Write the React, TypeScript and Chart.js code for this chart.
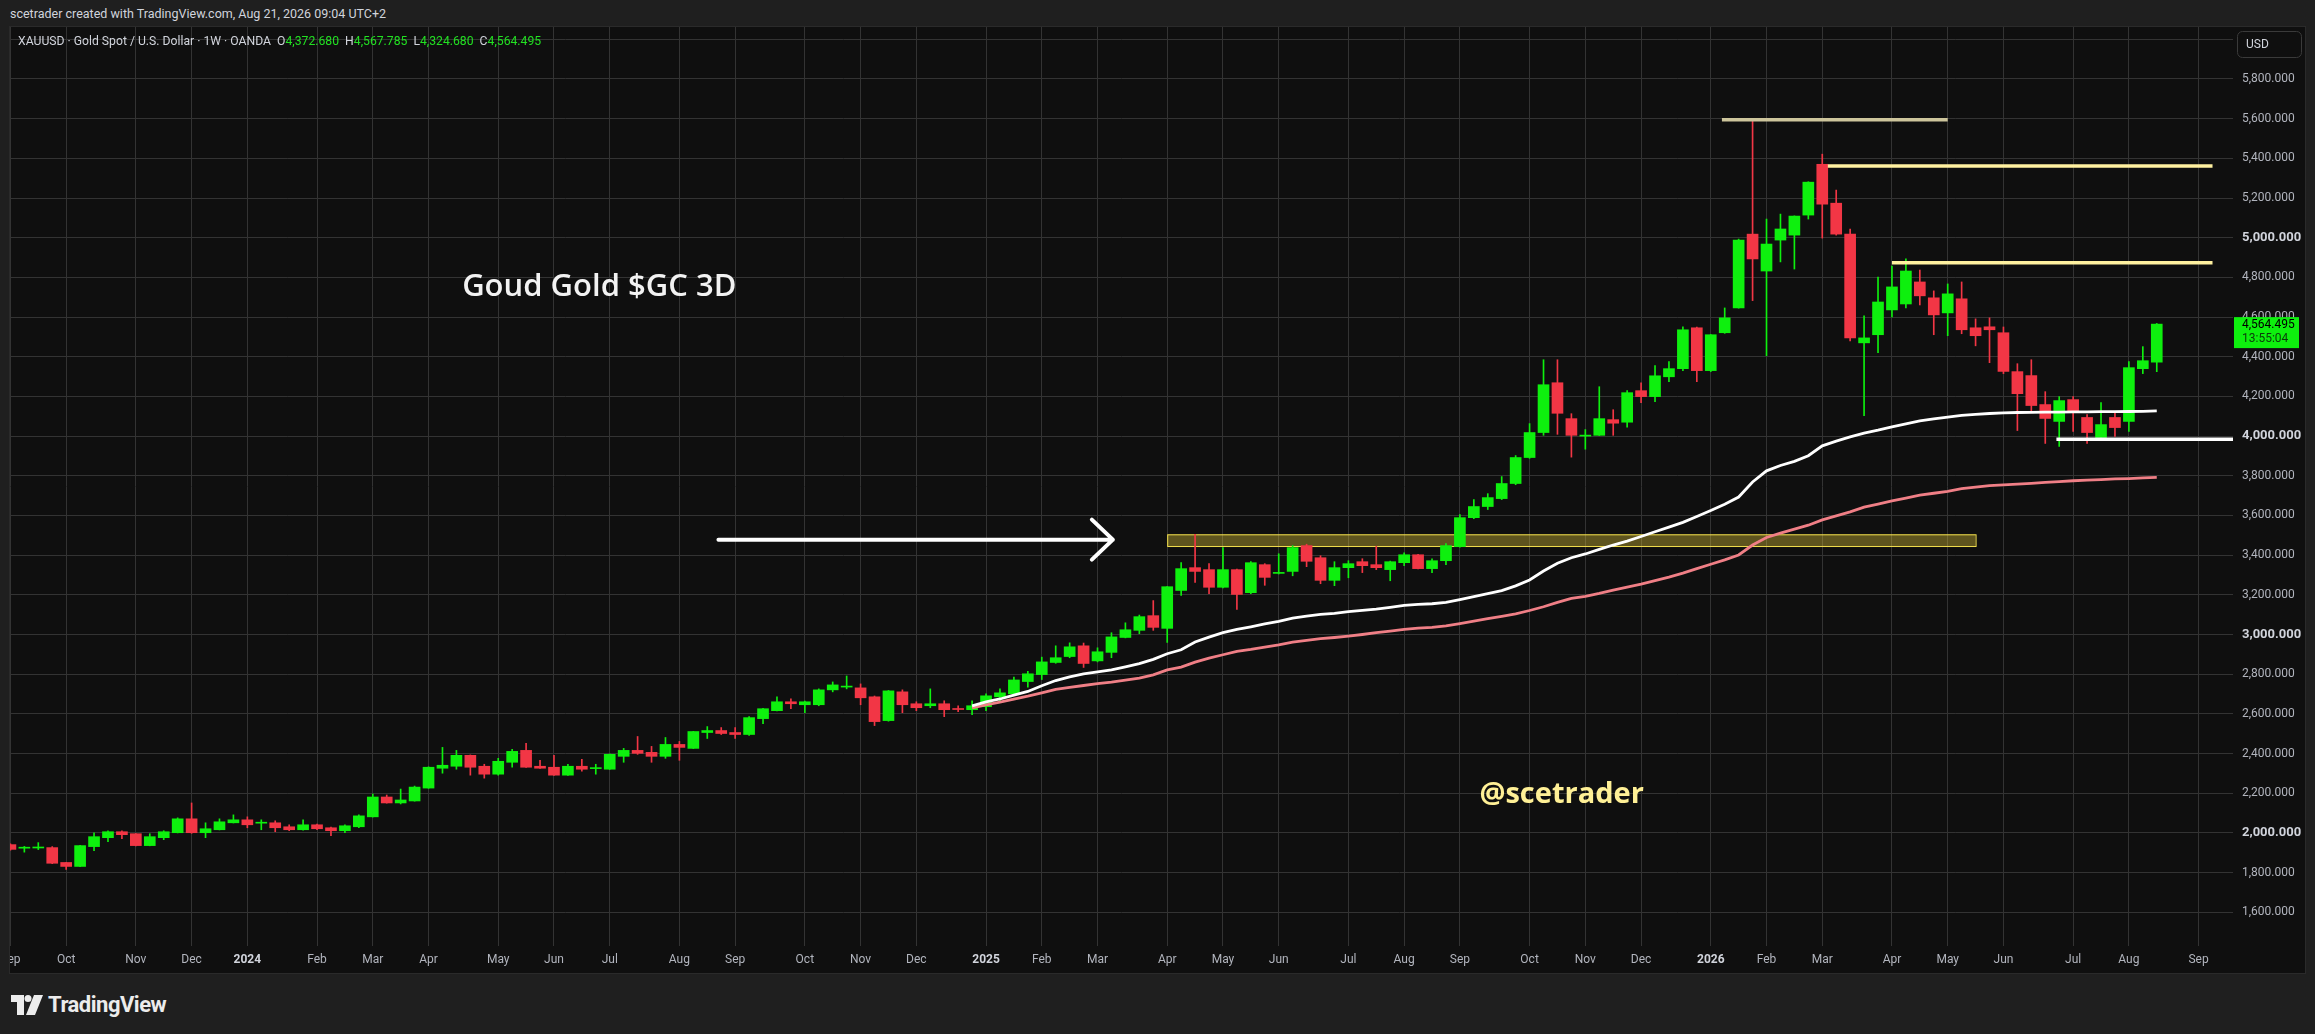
import React, { useEffect, useRef } from 'react';
import { Chart, registerables } from 'chart.js';

Chart.register(...registerables);

// ---------- DATA ----------
const FIRST_WEEK = [2023, 8, 4]; // Monday Sep 4, 2023 (UTC, month 0-based)
const MONTHS = ['Jan', 'Feb', 'Mar', 'Apr', 'May', 'Jun', 'Jul', 'Aug', 'Sep', 'Oct', 'Nov', 'Dec'];

const opens = [
  1941, 1923, 1924, 1926, 1851, 1831, 1931, 1976, 2006, 1996,
  1936, 1976, 2001, 2071, 2001, 2016, 2051, 2066, 2049, 2051,
  2031, 2016, 2041, 2026, 2011, 2031, 2081, 2181, 2151, 2161,
  2226, 2326, 2336, 2391, 2336, 2296, 2356, 2416, 2336, 2331,
  2291, 2336, 2324, 2321, 2386, 2416, 2406, 2386, 2446, 2426,
  2506, 2516, 2506, 2496, 2576, 2616, 2661, 2646, 2646, 2721,
  2735, 2731, 2686, 2566, 2711, 2651, 2641, 2651, 2626, 2621,
  2636, 2686, 2701, 2763, 2798, 2859, 2889, 2943, 2867, 2910,
  2985, 3021, 3095, 3031, 3222, 3337, 3327, 3238, 3327, 3211,
  3352, 3308, 3318, 3448, 3387, 3273, 3337, 3367, 3352, 3327,
  3362, 3402, 3332, 3372, 3443, 3589, 3645, 3685, 3761, 3892,
  4018, 4269, 4088, 4000, 4004, 4083, 4070, 4229, 4199, 4299,
  4340, 4546, 4330, 4521, 4646, 5018, 4832, 4988, 5013, 5114,
  5370, 5174, 5018, 4470, 4511, 4636, 4666, 4777, 4697, 4621,
  4692, 4546, 4551, 4521, 4325, 4305, 4159, 4074, 4184, 4094,
  3993, 4094, 4074, 4340, 4372.68,
];
const highs = [
  1945, 1932, 1951, 1931, 1852, 1937, 2000, 2011, 2011, 1997,
  1996, 2011, 2076, 2151, 2051, 2071, 2091, 2081, 2066, 2061,
  2041, 2066, 2045, 2030, 2041, 2091, 2196, 2191, 2221, 2236,
  2333, 2431, 2416, 2393, 2346, 2376, 2421, 2451, 2366, 2391,
  2346, 2371, 2346, 2398, 2426, 2486, 2436, 2481, 2461, 2512,
  2536, 2531, 2531, 2586, 2628, 2686, 2676, 2665, 2726, 2761,
  2791, 2751, 2690, 2718, 2721, 2661, 2726, 2666, 2641, 2666,
  2701, 2726, 2786, 2815, 2886, 2943, 2958, 2957, 2933, 3009,
  3059, 3098, 3171, 3242, 3362, 3505, 3357, 3438, 3330, 3367,
  3357, 3407, 3448, 3455, 3397, 3367, 3372, 3382, 3445, 3370,
  3412, 3404, 3382, 3458, 3604, 3680, 3710, 3796, 3902, 4063,
  4385, 4385, 4113, 4033, 4249, 4133, 4229, 4269, 4355, 4375,
  4551, 4550, 4512, 4646, 4993, 5600, 5094, 5119, 5110, 5282,
  5421, 5240, 5044, 4606, 4802, 4857, 4893, 4837, 4732, 4767,
  4777, 4591, 4596, 4550, 4365, 4385, 4224, 4199, 4199, 4109,
  4169, 4124, 4375, 4451, 4567.785,
];
const lows = [
  1913, 1903, 1916, 1845, 1816, 1830, 1911, 1956, 1971, 1935,
  1935, 1966, 2000, 1998, 1976, 2015, 2050, 2026, 2016, 2006,
  2011, 2014, 2016, 1986, 2001, 2026, 2080, 2150, 2146, 2160,
  2225, 2301, 2321, 2291, 2276, 2291, 2331, 2330, 2325, 2290,
  2290, 2311, 2296, 2320, 2356, 2396, 2356, 2376, 2366, 2425,
  2476, 2496, 2476, 2491, 2551, 2615, 2626, 2606, 2641, 2711,
  2726, 2646, 2541, 2563, 2606, 2616, 2631, 2586, 2611, 2596,
  2616, 2661, 2700, 2734, 2773, 2855, 2883, 2834, 2862, 2883,
  2983, 3004, 3021, 2960, 3197, 3263, 3206, 3235, 3127, 3206,
  3248, 3305, 3296, 3342, 3256, 3246, 3286, 3312, 3327, 3271,
  3347, 3330, 3312, 3352, 3440, 3584, 3630, 3680, 3755, 3888,
  4004, 4009, 3894, 3934, 4003, 4004, 4045, 4169, 4174, 4274,
  4330, 4274, 4325, 4518, 4645, 4683, 4405, 4878, 4842, 5094,
  4998, 5013, 4480, 4103, 4420, 4601, 4646, 4661, 4511, 4506,
  4516, 4455, 4370, 4315, 4028, 4124, 3963, 3948, 4023, 3963,
  3988, 3998, 4023, 4315, 4324.68,
];
const closes = [
  1917, 1925, 1926, 1847, 1831, 1936, 1981, 2006, 1991, 1936,
  1981, 2006, 2071, 2001, 2021, 2056, 2066, 2041, 2051, 2026,
  2016, 2041, 2021, 2011, 2036, 2086, 2181, 2151, 2166, 2231,
  2331, 2341, 2391, 2331, 2296, 2361, 2411, 2331, 2326, 2291,
  2336, 2321, 2328, 2396, 2416, 2401, 2386, 2446, 2431, 2511,
  2516, 2501, 2496, 2581, 2626, 2661, 2651, 2661, 2721, 2746,
  2738, 2681, 2561, 2716, 2646, 2631, 2651, 2621, 2622, 2641,
  2691, 2706, 2771, 2802, 2862, 2883, 2938, 2854, 2913, 2988,
  3024, 3090, 3036, 3241, 3332, 3318, 3238, 3327, 3202, 3362,
  3288, 3311, 3438, 3369, 3273, 3337, 3357, 3347, 3337, 3367,
  3402, 3332, 3372, 3448, 3589, 3645, 3690, 3761, 3892, 4018,
  4259, 4115, 4004, 4003, 4088, 4065, 4219, 4199, 4304, 4340,
  4536, 4330, 4511, 4596, 4988, 4893, 4968, 5044, 5109, 5280,
  5169, 5018, 4495, 4495, 4676, 4752, 4832, 4707, 4611, 4717,
  4536, 4506, 4536, 4326, 4214, 4154, 4089, 4179, 4119, 4018,
  4058, 4043, 4345, 4380, 4564.495,
];

const MA_START = 69; // week index where both averages begin
const maWhite = [
  2640, 2660, 2675, 2694, 2713, 2742, 2768, 2786, 2802, 2812,
  2822, 2837, 2853, 2875, 2903, 2923, 2962, 2987, 3009, 3026,
  3039, 3053, 3066, 3083, 3093, 3101, 3106, 3115, 3122, 3128,
  3137, 3147, 3152, 3155, 3162, 3176, 3191, 3206, 3221, 3245,
  3275, 3320, 3359, 3387, 3406, 3429, 3451, 3471, 3494, 3518,
  3541, 3565, 3595, 3625, 3657, 3693, 3769, 3825, 3852, 3873,
  3901, 3951, 3975, 3996, 4015, 4030, 4047, 4062, 4077, 4087,
  4096, 4104, 4110, 4114, 4117, 4119, 4120, 4121, 4121, 4122,
  4122, 4123, 4123, 4124, 4125, 4127,
];
const maPink = [
  2630, 2645, 2659, 2674, 2689, 2706, 2723, 2733, 2743, 2752,
  2760, 2770, 2780, 2797, 2822, 2836, 2861, 2881, 2898, 2915,
  2925, 2937, 2948, 2962, 2970, 2979, 2985, 2992, 3000, 3009,
  3017, 3026, 3032, 3036, 3043, 3055, 3067, 3080, 3092, 3104,
  3121, 3140, 3162, 3182, 3192, 3207, 3224, 3239, 3254, 3272,
  3289, 3309, 3332, 3354, 3376, 3401, 3451, 3489, 3511, 3531,
  3551, 3578, 3598, 3618, 3642, 3657, 3673, 3688, 3702, 3712,
  3722, 3735, 3743, 3750, 3754, 3758, 3762, 3767, 3771, 3775,
  3778, 3781, 3784, 3786, 3789, 3792,
];

const yTicks = [1600, 1800, 2000, 2200, 2400, 2600, 2800, 3000, 3200, 3400, 3600, 3800, 4000, 4200, 4400, 4600, 4800, 5000, 5200, 5400, 5600, 5800, 6000];

// drawn levels (week index from/to, price)
const levelFrom = [122.8, 130.4, 135.0, 146.8];
const levelTo = [139.0, 158.0, 158.0, 159.6];
const levelPrice = [5595, 5362, 4874, 3984];
const levelColor = ['#cdc59c', '#fff1a0', '#fff1a0', '#ffffff'];

const zoneWeeks = [83, 141];
const zonePrices = [3446, 3505];
const arrowWeeks = [50.8, 79.1];
const arrowPrice = 3478;
const titleAnchor = [32.41, 4707];
const signAnchor = [105.4, 2151];
const lastTimer = '13:55:04';

// ---------- STYLE ----------
const GREEN = '#0ef00e';
const RED = '#f23645';
const GRID = '#333333';
const TICK = '#b2b5be';
const FONT = 'Roboto';

const fmt = (v: number) => v.toLocaleString('en-US', { minimumFractionDigits: 3, maximumFractionDigits: 3 });

function buildMonthTicks(count: number) {
  const out: { value: number; label: string; major: boolean }[] = [];
  let prev = -1;
  for (let i = 0; i < count; i++) {
    const d = new Date(Date.UTC(FIRST_WEEK[0], FIRST_WEEK[1], FIRST_WEEK[2] + 7 * i));
    const m = d.getUTCMonth();
    if (m !== prev) out.push({ value: i, label: m === 0 ? String(d.getUTCFullYear()) : MONTHS[m], major: m === 0 });
    prev = m;
  }
  return out;
}

export default function App() {
  const ref = useRef<HTMLCanvasElement>(null);

  useEffect(() => {
    const canvas = ref.current!;
    const monthTicks = buildMonthTicks(161);
    const labelMap = new Map<number, { label: string; major: boolean }>();
    monthTicks.forEach((t) => labelMap.set(t.value, t));

    const idx = closes.map((_, i) => i);
    const up = (i: number) => closes[i] >= opens[i];
    const colorFn = (c: any) => (up(c.dataIndex) ? GREEN : RED);

    const levelSets: any[] = levelPrice.map((p, k) => ({
      type: 'line',
      data: [{ x: levelFrom[k], y: p }, { x: levelTo[k], y: p }],
      borderColor: levelColor[k],
      borderWidth: 3.5,
      pointRadius: 0,
      borderCapStyle: 'butt',
      order: 1,
    }));

    const overlay = {
      id: 'overlay',
      beforeDatasetsDraw(chart: any) {
        const { ctx, chartArea: a, scales } = chart;
        const x = scales.x, y = scales.y;
        ctx.save();
        ctx.beginPath();
        ctx.rect(a.left, a.top, a.right - a.left, a.bottom - a.top);
        ctx.clip();
        const x1 = x.getPixelForValue(zoneWeeks[0]);
        const x2 = x.getPixelForValue(zoneWeeks[1]);
        const y1 = y.getPixelForValue(zonePrices[1]);
        const y2 = y.getPixelForValue(zonePrices[0]);
        ctx.fillStyle = 'rgba(255,225,60,0.33)';
        ctx.fillRect(x1, y1, x2 - x1, y2 - y1);
        ctx.strokeStyle = '#f2df4e';
        ctx.lineWidth = 1;
        ctx.strokeRect(x1 + 0.5, y1 + 0.5, x2 - x1, y2 - y1);
        ctx.restore();
      },
      afterDatasetsDraw(chart: any) {
        const { ctx, scales } = chart;
        const x = scales.x, y = scales.y;
        ctx.save();
        // arrow
        const ax1 = x.getPixelForValue(arrowWeeks[0]);
        const ax2 = x.getPixelForValue(arrowWeeks[1]);
        const ay = y.getPixelForValue(arrowPrice);
        ctx.strokeStyle = '#ffffff';
        ctx.lineWidth = 4;
        ctx.lineCap = 'round';
        ctx.lineJoin = 'round';
        ctx.beginPath();
        ctx.moveTo(ax1, ay);
        ctx.lineTo(ax2, ay);
        ctx.moveTo(ax2 - 21, ay - 20);
        ctx.lineTo(ax2, ay);
        ctx.lineTo(ax2 - 21, ay + 20);
        ctx.stroke();
        // texts
        ctx.textBaseline = 'alphabetic';
        ctx.textAlign = 'left';
        ctx.fillStyle = '#f2f2f2';
        ctx.font = '600 31px "Open Sans"';
        ctx.fillText('Goud Gold $GC 3D', x.getPixelForValue(titleAnchor[0]), y.getPixelForValue(titleAnchor[1]));
        ctx.fillStyle = '#fff096';
        ctx.font = 'bold 29px "Open Sans"';
        ctx.fillText('@scetrader', x.getPixelForValue(signAnchor[0]), y.getPixelForValue(signAnchor[1]));
        ctx.restore();
      },
      afterDraw(chart: any) {
        const { ctx, chartArea: a, scales, width } = chart;
        const y = scales.y;
        ctx.save();
        // last price tag
        const last = closes[closes.length - 1];
        const py = y.getPixelForValue(last);
        ctx.fillStyle = GREEN;
        ctx.fillRect(a.right + 1, py - 7, width - 5 - (a.right + 1), 31);
        ctx.textBaseline = 'middle';
        ctx.textAlign = 'left';
        ctx.font = `12px ${FONT}`;
        ctx.fillStyle = '#000000';
        ctx.fillText(fmt(last), a.right + 9, py + 0.5);
        ctx.fillStyle = '#0b3a0b';
        ctx.fillText(lastTimer, a.right + 9, py + 15);
        // currency box
        const bx = a.right + 4, by = 4, bw = 64, bh = 26;
        ctx.beginPath();
        ctx.roundRect(bx + 0.5, by + 0.5, bw, bh, 5);
        ctx.fillStyle = '#0f0f0f';
        ctx.fill();
        ctx.strokeStyle = '#3a3a3a';
        ctx.lineWidth = 1;
        ctx.stroke();
        ctx.fillStyle = '#d1d4dc';
        ctx.font = `12px ${FONT}`;
        ctx.fillText('USD', bx + 9, by + bh / 2 + 1);
        ctx.restore();
      },
    };

    const chart = new Chart(canvas, {
      type: 'bar',
      data: {
        datasets: [
          ...levelSets,
          {
            type: 'line',
            data: maWhite.map((v, k) => ({ x: MA_START + k, y: v })),
            borderColor: '#ffffff',
            borderWidth: 2.8,
            pointRadius: 0,
            tension: 0,
            order: 3,
          },
          {
            type: 'line',
            data: maPink.map((v, k) => ({ x: MA_START + k, y: v })),
            borderColor: '#f07f86',
            borderWidth: 2.8,
            pointRadius: 0,
            tension: 0,
            order: 4,
          },
          {
            type: 'bar',
            data: idx.map((i) => ({ x: i, y: [opens[i], closes[i]] })),
            backgroundColor: colorFn,
            borderWidth: 0,
            barThickness: 11,
            minBarLength: 1,
            grouped: false,
            order: 5,
          },
          {
            type: 'bar',
            data: idx.map((i) => ({ x: i, y: [lows[i], highs[i]] })),
            backgroundColor: colorFn,
            borderWidth: 0,
            barThickness: 1,
            grouped: false,
            order: 6,
          },
        ] as any,
      },
      options: {
        responsive: false,
        animation: false,
        devicePixelRatio: 1,
        layout: { padding: 0 },
        plugins: { legend: { display: false }, tooltip: { enabled: false } },
        scales: {
          x: {
            type: 'linear',
            offset: false,
            min: -0.03,
            max: 159.47,
            afterBuildTicks: (s: any) => {
              s.ticks = monthTicks.map((t) => ({ value: t.value }));
            },
            afterFit: (s: any) => {
              s.height = 27;
              s.paddingLeft = 0;
              s.paddingRight = 0;
            },
            grid: { color: GRID, drawTicks: false, lineWidth: 1, offset: false },
            border: { display: false },
            ticks: {
              autoSkip: false,
              maxRotation: 0,
              padding: 7,
              color: (c: any) => (labelMap.get(c.tick?.value)?.major ? '#d1d4dc' : TICK),
              font: (c: any) => ({ family: FONT, size: 12, weight: labelMap.get(c.tick?.value)?.major ? 'bold' : 'normal' }),
              callback: (v: any) => labelMap.get(v)?.label ?? '',
            },
          },
          y: {
            type: 'linear',
            position: 'right',
            min: 1430,
            max: 6062,
            afterBuildTicks: (s: any) => {
              s.ticks = yTicks.map((v) => ({ value: v }));
            },
            afterFit: (s: any) => {
              s.width = 71;
              s.paddingTop = 0;
              s.paddingBottom = 0;
            },
            grid: { color: GRID, drawTicks: false, lineWidth: 1 },
            border: { display: false },
            ticks: {
              padding: 9,
              color: (c: any) => (c.tick?.value % 1000 === 0 ? '#d1d4dc' : TICK),
              font: (c: any) => ({ family: FONT, size: c.tick?.value % 1000 === 0 ? 13 : 12, weight: c.tick?.value % 1000 === 0 ? 'bold' : 'normal' }),
              callback: (v: any) => (v === 6000 ? '' : fmt(Number(v))),
            },
          },
        },
      } as any,
      plugins: [overlay],
    });

    return () => chart.destroy();
  }, []);

  const green = { color: '#22e022' };
  return (
    <div style={{ position: 'fixed', left: 0, top: 0, width: 2315, height: 1034, background: '#1f1f1f', overflow: 'hidden', fontFamily: FONT }}>
      <div style={{ position: 'absolute', left: 10, top: 6, fontSize: 12.5, color: '#d1d4dc', whiteSpace: 'nowrap' }}>
        scetrader created with TradingView.com, Aug 21, 2026 09:04 UTC+2
      </div>
      <div style={{ position: 'absolute', left: 9, top: 26, width: 2297, height: 948, background: '#0f0f0f', border: '1px solid #2a2a2a', boxSizing: 'border-box' }} />
      <canvas ref={ref} width={2294} height={946} style={{ position: 'absolute', left: 10, top: 27, width: 2294, height: 946 }} />
      <div style={{ position: 'absolute', left: 18, top: 34, fontSize: 12.2, color: '#d1d4dc', whiteSpace: 'nowrap', wordSpacing: 0 }}>
        XAUUSD · Gold Spot / U.S. Dollar · 1W · OANDA{'\u00a0\u00a0'}O<span style={green}>4,372.680</span>{'\u00a0\u00a0'}H<span style={green}>4,567.785</span>{'\u00a0\u00a0'}L<span style={green}>4,324.680</span>{'\u00a0\u00a0'}C<span style={green}>4,564.495</span>
      </div>
      <svg style={{ position: 'absolute', left: 11, top: 995 }} width="32" height="20" viewBox="0 0 32 20">
        <path d="M0 0h13v20H6V7H0z" fill="#ececec" />
        <circle cx="17" cy="3.5" r="3.5" fill="#ececec" />
        <path d="M23 0h9l-8 20h-9z" fill="#ececec" />
      </svg>
      <div style={{ position: 'absolute', left: 48, top: 992, fontSize: 22, fontWeight: 'bold', color: '#ececec', letterSpacing: -0.5 }}>
        TradingView
      </div>
    </div>
  );
}
